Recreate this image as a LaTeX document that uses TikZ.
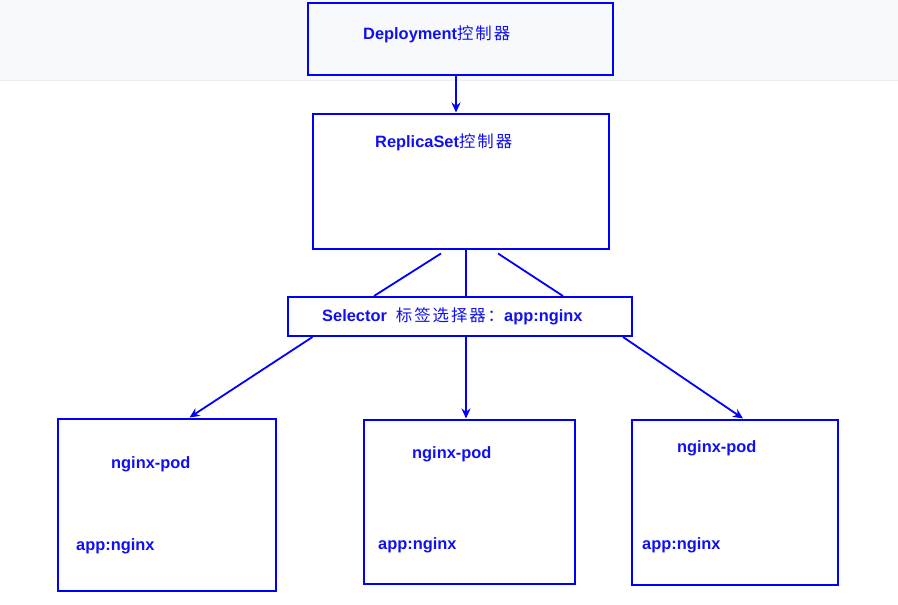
\documentclass[tikz,border=0pt]{standalone}
\usepackage{fontspec}
\setmainfont{Liberation Sans}
\newfontfamily\cjk[LetterSpace=12]{Noto Sans CJK SC}
\usetikzlibrary{arrows.meta,calc}
\definecolor{bband}{HTML}{F8F9FD}
\definecolor{dblue}{HTML}{0000FF}
\definecolor{tblue}{HTML}{1010F0}
\newcommand{\cj}[1]{{\cjk\mdseries #1}}
\tikzset{
  box/.style={draw=dblue, line width=2pt, inner sep=0pt, rectangle},
  lbl/.style={anchor=west, inner sep=0pt, text=tblue, font=\bfseries\fontsize{16.4}{19}\selectfont},
  conn/.style={draw=dblue, line width=1.8pt},
  arr/.style={conn, -{Stealth[length=10pt,width=9pt]}}
}
\begin{document}
\begin{tikzpicture}[x=1pt,y=-1pt]
\useasboundingbox (0,0) rectangle (898,605);
\fill[bband] (0,0) rectangle (898,80);
\draw[black!7, line width=1pt] (0,80.5) -- (898,80.5);
% boxes
\node[box, minimum width=305pt, minimum height=72pt] (dep) at (460,38.5) {};
\node[box, minimum width=296pt, minimum height=135pt] (rs) at (460.5,181) {};
\node[box, fill=white, minimum width=344pt, minimum height=39pt] (sel) at (459.5,316.5) {};
\node[box, minimum width=218pt, minimum height=172pt] (pod1) at (166.5,504.5) {};
\node[box, minimum width=211pt, minimum height=164pt] (pod2) at (469,501.5) {};
\node[box, minimum width=206pt, minimum height=165pt] (pod3) at (734.5,502) {};
% labels
\node[lbl] (deptxt) at (363,34) {Deployment\cj{控制器}};
\node[lbl] (rstxt) at (375,142) {ReplicaSet\cj{控制器}};
\node[lbl] (seltxt) at (322,316) {Selector\hspace{9pt}\cj{标签选择器：}app:nginx};
\node[lbl] (p1a) at (111,464) {nginx-pod};
\node[lbl] (p1b) at (76,546) {app:nginx};
\node[lbl] (p2a) at (412,454) {nginx-pod};
\node[lbl] (p2b) at (378,545) {app:nginx};
\node[lbl] (p3a) at (677,448) {nginx-pod};
\node[lbl] (p3b) at (642,545) {app:nginx};
% connectors
\draw[arr] ($(dep.south)+(-4,0)$) -- ($(rs.north)+(-4.5,0)$);
\draw[conn] ($(rs.south)+(-19.5,4)$) -- ($(sel.north)+(-85.5,0)$);
\draw[conn] ($(rs.south)+(5.5,0)$) -- ($(sel.north)+(6.5,0)$);
\draw[conn] ($(rs.south)+(37.5,4)$) -- ($(sel.north)+(103.5,0)$);
\draw[arr] ($(sel.south west)+(26,0)$) -- ($(pod1.north west)+(133,0)$);
\draw[arr] ($(sel.south)+(6.5,0)$) -- ($(pod2.north)+(-3,0)$);
\draw[arr] ($(sel.south east)+(-9.5,0)$) -- ($(pod3.north west)+(112.5,0)$);
\end{tikzpicture}
\end{document}
